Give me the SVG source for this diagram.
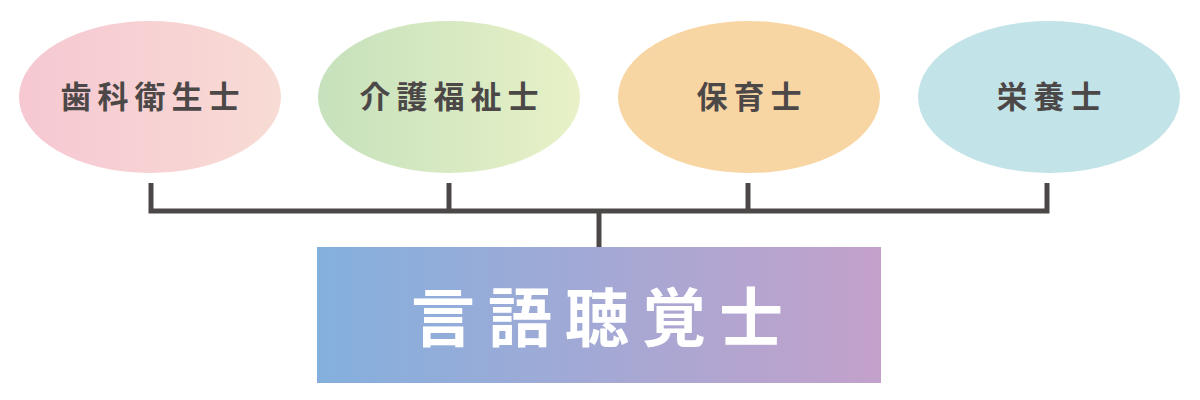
<svg xmlns="http://www.w3.org/2000/svg" width="1200" height="400" viewBox="0 0 1200 400">
<style>
.lbl{font-family:"Noto Sans CJK JP","Noto Sans CJK SC",sans-serif;font-weight:700;font-size:31px;fill:#4d4848;text-anchor:middle;letter-spacing:6px}
.main{font-family:"Noto Sans CJK JP","Noto Sans CJK SC",sans-serif;font-weight:700;font-size:64px;fill:#ffffff;text-anchor:middle;letter-spacing:13px}
.conn{stroke:#4d4848;stroke-width:5;fill:none}
</style>
<defs>
<linearGradient id="g1" x1="0" x2="1" y1="0" y2="0"><stop offset="0" stop-color="#f6c8d2"/><stop offset="1" stop-color="#f8dbd4"/></linearGradient>
<linearGradient id="g2" x1="0" x2="1" y1="0" y2="0"><stop offset="0" stop-color="#c6e1bc"/><stop offset="1" stop-color="#e8f1c7"/></linearGradient>
<linearGradient id="g5" x1="0" x2="1" y1="0" y2="0"><stop offset="0" stop-color="#84b0de"/><stop offset="1" stop-color="#c3a1cb"/></linearGradient>
</defs>
<g id="connectors">
<path class="conn" d="M151 183V211M449 183V211M748 183V211M1047 183V211M148.5 211H1049.5M599 211V247"/>
</g>
<g id="n1"><ellipse cx="150" cy="97" rx="131" ry="76" fill="url(#g1)"/><text class="lbl" x="153" y="108">歯科衛生士</text></g>
<g id="n2"><ellipse cx="449" cy="97" rx="131" ry="76" fill="url(#g2)"/><text class="lbl" x="452" y="108">介護福祉士</text></g>
<g id="n3"><ellipse cx="749" cy="97" rx="131" ry="76" fill="#f8d6a3"/><text class="lbl" x="752" y="108">保育士</text></g>
<g id="n4"><ellipse cx="1049" cy="97" rx="131" ry="76" fill="#c2e4e8"/><text class="lbl" x="1052" y="108">栄養士</text></g>
<g id="main"><rect x="317" y="247" width="564" height="136" fill="url(#g5)"/><text class="main" x="603.5" y="341">言語聴覚士</text></g>
</svg>
